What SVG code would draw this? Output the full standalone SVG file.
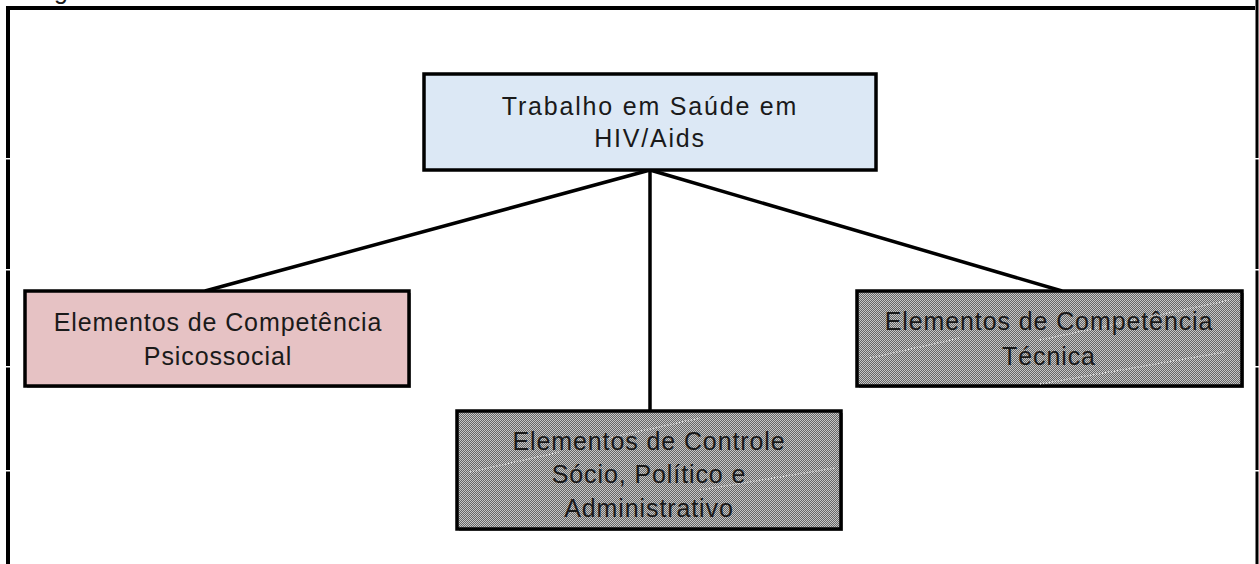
<svg xmlns="http://www.w3.org/2000/svg" width="1259" height="564" viewBox="0 0 1259 564">
<style>
.box{stroke:#000;stroke-width:3.5}
.shadow{fill:#9a9a9a}
.t{font-family:"Liberation Sans",Arial,sans-serif;font-size:25px;letter-spacing:0.9px;fill:#1a1a1a;text-anchor:middle}
.conn{stroke:#000;stroke-width:3.5;fill:none}
.frame{stroke:#000;fill:none}
.streak{stroke:#fff;stroke-width:1.5;stroke-dasharray:1 2;opacity:0.85}
</style>
<defs>
<pattern id="checker" width="2" height="2" patternUnits="userSpaceOnUse">
<rect width="2" height="2" fill="#666"/>
<rect width="1" height="1" fill="#c6c6c6"/>
<rect x="1" y="1" width="1" height="1" fill="#c6c6c6"/>
</pattern>
</defs>
<rect width="1259" height="564" fill="#fff"/>
<g id="frame">
<line class="frame" x1="8" y1="6" x2="8" y2="564" stroke-width="4"/>
<line class="frame" x1="6" y1="8" x2="1255" y2="8" stroke-width="4"/>
<line class="frame" x1="1257" y1="0" x2="1257" y2="564" stroke-width="3"/>
<g fill="#fff">
<rect x="5" y="158" width="6" height="1.5"/>
<rect x="5" y="269" width="6" height="1.5"/>
<rect x="5" y="366" width="6" height="1.5"/>
<rect x="5" y="470" width="6" height="1.5"/>
<rect x="1255" y="158" width="4" height="1.5"/>
<rect x="1255" y="269" width="4" height="1.5"/>
<rect x="1255" y="366" width="4" height="1.5"/>
<rect x="1255" y="470" width="4" height="1.5"/>
</g>
<text x="54" y="-1" style="font-family:'Liberation Sans',Arial,sans-serif;font-size:25px;fill:#1a1a1a">g</text>
</g>
<g id="connectors">
<line class="conn" x1="650" y1="170" x2="205" y2="291"/>
<line class="conn" x1="650" y1="170" x2="1062" y2="291"/>
<line class="conn" x1="650" y1="170" x2="650" y2="411"/>
</g>
<g id="node-top">
<rect class="box" x="424" y="74" width="452" height="96" fill="#dce8f5"/>
<text class="t" x="650" y="115" style="letter-spacing:1.8px">Trabalho em Saúde em</text>
<text class="t" x="650" y="147" style="letter-spacing:1.8px">HIV/Aids</text>
</g>
<g id="node-psicossocial">
<rect class="shadow" x="27" y="293" width="384" height="95"/>
<rect class="box" x="25" y="291" width="384" height="95" fill="#e6c2c4"/>
<text class="t" x="218" y="331">Elementos de Competência</text>
<text class="t" x="218" y="365">Psicossocial</text>
</g>
<g id="node-tecnica">
<rect class="shadow" x="859" y="293" width="385" height="95"/>
<rect class="box" x="857" y="291" width="385" height="95" fill="url(#checker)"/>
<line class="streak" x1="870" y1="358" x2="960" y2="338"/>
<line class="streak" x1="1040" y1="340" x2="1230" y2="300"/>
<line class="streak" x1="1040" y1="384" x2="1225" y2="352"/>
<text class="t" x="1049" y="330">Elementos de Competência</text>
<text class="t" x="1049" y="365">Técnica</text>
</g>
<g id="node-controle">
<rect class="shadow" x="459" y="413" width="384" height="118"/>
<rect class="box" x="457" y="411" width="384" height="118" fill="url(#checker)"/>
<line class="streak" x1="470" y1="472" x2="560" y2="452"/>
<line class="streak" x1="600" y1="440" x2="700" y2="418"/>
<line class="streak" x1="700" y1="490" x2="835" y2="468"/>
<text class="t" x="649" y="450">Elementos de Controle</text>
<text class="t" x="649" y="483">Sócio, Político e</text>
<text class="t" x="649" y="517">Administrativo</text>
</g>
</svg>
